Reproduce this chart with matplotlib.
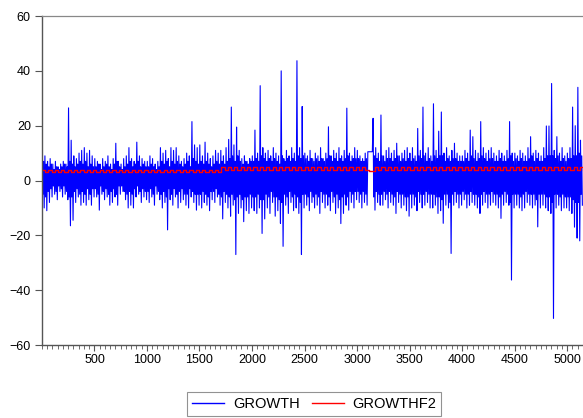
"""GROWTH vs GROWTHF2 line chart (EViews style)."""

import matplotlib

matplotlib.use("Agg")
import matplotlib.pyplot as plt
import numpy as np
from matplotlib.ticker import MultipleLocator

plt.rcParams["font.family"] = ["Liberation Sans", "DejaVu Sans"]

# GROWTH, read off the chart per block of 25 observations:
# outer high / low (spikes) and the inner dense band (core high / low)
BIN = 25
growth_hi = [
    10, 9, 7, 8, 6, 7, 5, 6, 7, 6, 26.5, 14.7, 9, 8, 10, 11, 12, 10, 11, 9,
    8, 7, 6, 8, 7, 9, 6, 8, 13.6, 7, 6, 8, 9, 12, 8, 7, 14, 9, 8, 7,
    7, 9, 8, 6, 7, 12, 10, 11, 8, 12, 11, 12, 9, 7, 8, 10, 9, 21.5, 13, 12,
    13, 9, 14, 10, 8, 9, 11, 10, 11, 9, 12, 15, 26.8, 13, 19.5, 11, 8, 9, 7, 8,
    9, 18.4, 10, 34.6, 12, 10, 11, 9, 12, 10, 9, 40, 8, 11, 9, 12, 10, 43.7, 12, 27,
    10, 9, 11, 8, 10, 9, 12, 8, 10, 19.6, 9, 11, 10, 12, 9, 11, 26.4, 10, 9, 12,
    11, 9, 8, 10, 10.5, 10.5, 22.7, 12, 10, 23.9, 9, 11, 12, 10, 11, 13.6, 9, 10, 11, 12,
    10, 12, 9, 19, 11, 26.8, 10, 12, 9, 28, 11, 18, 25, 10, 12, 9, 11, 13.6, 10, 9,
    9, 11, 10, 18.4, 16, 11, 10, 21.5, 12, 10, 11, 12, 10, 9, 11, 10, 9, 11, 21.5, 10,
    10, 9, 11, 10, 9, 12, 16, 10, 11, 10, 9, 12, 19.9, 19.9, 35.4, 11, 16, 10, 12, 9,
    10, 12, 26.8, 20, 34, 14.7,
]
growth_lo = [
    -10, -11, -8, -6, -5, -7, -4, -6, -5, -7, -16.5, -14.5, -8, -6, -9, -8, -9, -7, -9, -6,
    -6, -10.8, -5, -7, -6, -9, -8, -6, -9, -5, -4, -7, -10, -9, -10, -6, -5, -8, -6, -7,
    -8, -6, -9, -5, -7, -10, -8, -18, -7, -9, -6, -10, -8, -7, -9, -10, -6, -8, -10.8, -9,
    -10, -8, -9, -11, -7, -8, -6, -9, -14, -8, -10, -13, -9, -27, -12, -10, -15, -11, -12, -10,
    -11, -12, -10, -19.3, -14, -10, -12, -8, -13, -11, -15.6, -24, -9, -12, -8, -11, -10, -12, -27, -10,
    -9, -11, -8, -10, -9, -12, -8, -10, -9, -11, -8, -12, -10, -15.7, -12, -9, -10.8, -8, -10, -7,
    -8, -10, -8, -9, 10.5, 10.5, -10.8, -8, -9, -9, -7, -10, -8, -9, -12, -8, -10, -9, -11, -13,
    -10, -9, -11, -8, -10, -9, -8, -10, -10, -9, -12, -11, -15.6, -9, -10, -26.6, -9, -8, -10, -9,
    -7, -10, -9, -8, -9, -10, -12, -9, -8, -10, -9, -8, -9, -10, -13.8, -9, -8, -9, -36.3, -10,
    -9, -10, -11, -10, -8, -9, -10, -9, -16.9, -10, -9, -10, -11, -12, -50.3, -10, -9, -11, -10, -10,
    -11, -12, -17, -21, -22, -9,
]
growth_core_hi = [
    7, 6, 5, 6, 4, 5, 4, 5, 6, 5, 7, 6, 5, 6, 7, 6, 7, 5, 6, 5,
    5, 6, 4, 5, 6, 5, 4, 6, 7, 5, 4, 5, 6, 7, 5, 6, 7, 5, 6, 5,
    5, 6, 5, 4, 5, 7, 6, 7, 5, 7, 6, 7, 6, 5, 6, 7, 5, 8, 7, 6,
    7, 6, 7, 6, 5, 6, 7, 6, 7, 6, 7, 8, 9, 7, 9, 7, 6, 7, 6, 7,
    7, 8, 7, 9, 8, 7, 8, 7, 8, 7, 6, 9, 7, 8, 7, 8, 7, 9, 8, 9,
    8, 7, 8, 7, 8, 7, 8, 7, 8, 9, 7, 8, 7, 8, 7, 8, 9, 7, 8, 8,
    8, 7, 7, 8, 10.5, 10.5, 9, 8, 7, 9, 7, 8, 8, 7, 8, 9, 7, 8, 7, 8,
    7, 8, 7, 9, 8, 9, 7, 8, 7, 9, 8, 9, 9, 7, 8, 7, 8, 8, 7, 7,
    7, 8, 7, 9, 8, 7, 8, 9, 8, 7, 8, 8, 7, 7, 8, 7, 7, 8, 9, 7,
    8, 7, 8, 7, 7, 8, 9, 7, 8, 7, 7, 8, 9, 9, 9, 8, 9, 7, 8, 7,
    8, 8, 9, 9, 10, 9,
]
growth_core_lo = [
    -5, -6, -4, -3, -2, -4, -2, -3, -2, -4, -6, -6, -4, -3, -5, -4, -5, -3, -5, -3,
    -3, -5, -2, -4, -3, -5, -4, -3, -5, -2, -2, -4, -5, -4, -5, -3, -2, -4, -3, -4,
    -4, -3, -5, -2, -4, -5, -4, -6, -3, -5, -3, -5, -4, -3, -5, -5, -3, -4, -5, -5,
    -5, -4, -5, -6, -4, -4, -3, -5, -6, -4, -5, -6, -5, -7, -6, -5, -7, -6, -6, -5,
    -6, -6, -5, -7, -7, -5, -6, -4, -6, -6, -7, -8, -5, -6, -4, -6, -5, -6, -8, -5,
    -5, -6, -4, -6, -5, -6, -4, -5, -5, -6, -4, -6, -5, -7, -6, -5, -6, -4, -5, -4,
    -4, -5, -4, -5, 10.5, 10.5, -6, -4, -5, -5, -4, -5, -4, -5, -6, -4, -5, -5, -6, -6,
    -5, -5, -6, -4, -5, -5, -4, -5, -5, -5, -6, -6, -7, -5, -5, -8, -5, -4, -5, -5,
    -4, -5, -5, -4, -5, -5, -6, -5, -4, -5, -5, -4, -5, -5, -6, -5, -4, -5, -8, -5,
    -5, -5, -6, -5, -4, -5, -5, -5, -7, -5, -5, -5, -6, -6, -8, -5, -5, -6, -5, -6,
    -6, -6, -7, -8, -8, -5,
]

# GROWTHF2: seasonal step pattern, one high and one low level per 61-obs cycle
PERIOD = 61
growthf2_hi = [
    3.9, 3.9, 3.9, 3.9, 3.9, 3.9, 3.9, 3.9, 3.9, 3.9, 3.9, 3.9, 3.9, 3.9,
    3.9, 3.9, 3.9, 3.9, 3.9, 3.9, 3.9, 3.9, 3.9, 3.9, 3.9, 3.9, 3.9, 3.9,
    4.8, 4.8, 4.8, 4.8, 4.8, 4.8, 4.8, 4.8, 4.8, 4.8, 4.8, 4.8, 4.8, 4.8,
    4.8, 4.8, 4.8, 4.8, 4.8, 4.8, 4.8, 4.8, 4.8, 3.6, 4.8, 4.8, 4.8, 4.8,
    4.8, 4.8, 4.8, 4.8, 4.8, 4.8, 4.8, 4.8, 4.8, 4.8, 4.8, 4.8, 4.8, 4.8,
    4.8, 4.8, 4.8, 4.8, 4.8, 4.8, 4.8, 4.8, 4.8, 4.8, 4.8, 4.8, 4.8, 4.8,
    4.8,
]
growthf2_lo = [
    3.0, 3.0, 3.0, 3.0, 3.0, 3.0, 3.0, 3.0, 3.0, 3.0, 3.0, 3.0, 3.0, 3.0,
    3.0, 3.0, 3.0, 3.0, 3.0, 3.0, 3.0, 3.0, 3.0, 3.0, 3.0, 3.0, 3.0, 3.0,
    3.8, 3.8, 3.8, 3.8, 3.8, 3.8, 3.8, 3.8, 3.8, 3.8, 3.8, 3.8, 3.8, 3.8,
    3.8, 3.8, 3.8, 3.8, 3.8, 3.8, 3.8, 3.8, 3.8, 3.6, 3.8, 3.8, 3.8, 3.8,
    3.8, 3.8, 3.8, 3.8, 3.8, 3.8, 3.8, 3.8, 3.8, 3.8, 3.8, 3.8, 3.8, 3.8,
    3.8, 3.8, 3.8, 3.8, 3.8, 3.8, 3.8, 3.8, 3.8, 3.8, 3.8, 3.8, 3.8, 3.8,
    3.8,
]

# order inside each block: high, core low, core high, low
n = len(growth_hi)
start = np.arange(n) * BIN
gx = np.column_stack([start + 3, start + 9, start + 15, start + 21]).ravel()
gy = np.column_stack([growth_hi, growth_core_lo, growth_core_hi, growth_lo]).ravel()

m = len(growthf2_hi)
fx = np.empty(2 * m)
fy = np.empty(2 * m)
fx[0::2] = np.arange(m) * PERIOD
fx[1::2] = np.arange(m) * PERIOD + PERIOD / 2
fy[0::2] = growthf2_hi
fy[1::2] = growthf2_lo

fig = plt.figure(figsize=(5.83, 4.18), dpi=100)
ax = fig.add_axes([0.072, 0.1746, 0.928, 0.787])

ax.plot(gx, gy, color="#0000ff", linewidth=0.8, label="GROWTH")
ax.step(fx, fy, where="post", color="#ff0000", linewidth=1.0, label="GROWTHF2")

ax.set_xlim(0, 5152)
ax.set_ylim(-60, 60)
ax.xaxis.set_minor_locator(MultipleLocator(50))
ax.yaxis.set_major_locator(MultipleLocator(20))
ax.set_xticks(list(range(500, 5001, 500)))

ax.tick_params(axis="x", which="major", direction="out", length=4.3, width=0.8,
               color="#555555", labelsize=9, pad=2)
ax.tick_params(axis="x", which="minor", direction="out", length=2.8, width=0.6,
               color="#555555")
ax.tick_params(axis="y", which="major", direction="out", length=5, width=0.8,
               color="#555555", labelsize=9, pad=3)

for side in ("left", "bottom"):
    ax.spines[side].set_color("#555555")
    ax.spines[side].set_linewidth(1.0)
ax.spines["top"].set_color("#888888")
ax.spines["top"].set_linewidth(0.9)
ax.spines["right"].set_visible(False)

handles, labels = ax.get_legend_handles_labels()
leg = fig.legend(handles, labels, loc="upper center", bbox_to_anchor=(0.539, 0.062),
                 ncol=2, frameon=True, fancybox=False, edgecolor="#777777",
                 fontsize=10.5, handlelength=2.2, handletextpad=0.6,
                 columnspacing=0.8, borderpad=0.35, borderaxespad=0)
leg.get_frame().set_linewidth(0.8)
for line in leg.get_lines():
    line.set_linewidth(1.0)

fig.savefig("out.png", dpi=100)
